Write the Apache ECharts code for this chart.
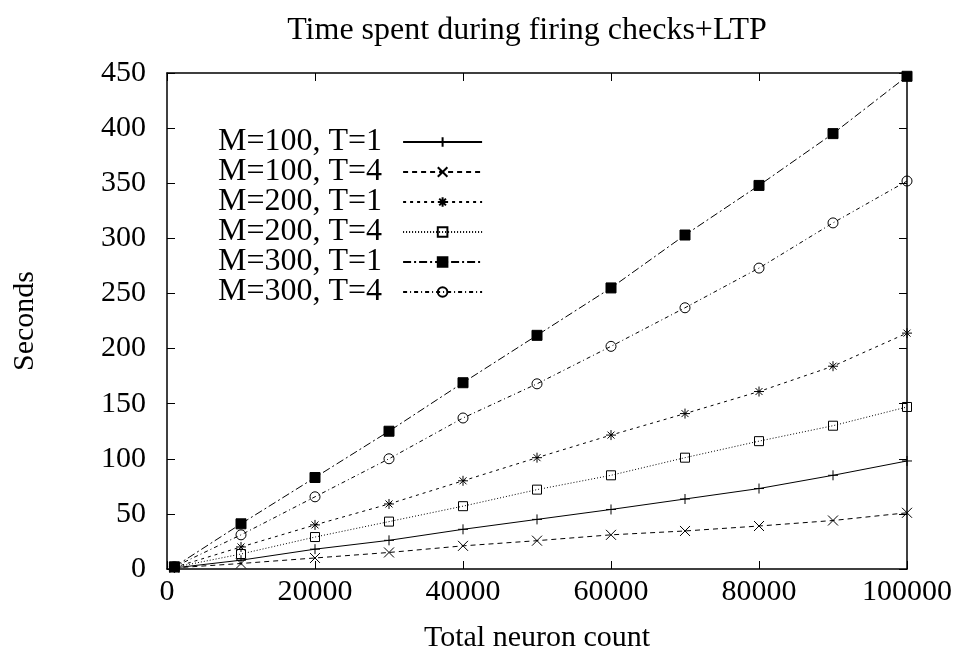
<!DOCTYPE html>
<html>
<head>
<meta charset="utf-8">
<script src="https://cdn.jsdelivr.net/npm/echarts@6/dist/echarts.min.js"></script>
<style>
html,body{margin:0;padding:0;background:#fff;}
#chart{width:961px;height:658px;}
</style>
</head>
<body>
<div id="chart"></div>
<script>
var neuronCounts = [1000, 10000, 20000, 30000, 40000, 50000, 60000, 70000, 80000, 90000, 100000];
var m100t1 = [1, 8, 18, 26, 36, 45, 54, 63.5, 73, 85, 98];
var m100t4 = [1, 5, 10, 15, 21, 25.7, 31, 34.5, 39, 44, 51];
var m200t1 = [1.5, 20, 40, 59, 80, 101, 121.5, 141, 161, 184, 214];
var m200t4 = [1.5, 13.6, 29, 43, 57, 72, 85, 101, 116, 130, 147];
var m300t1 = [2, 41, 83, 125, 169, 212, 255, 303, 348, 395, 447];
var m300t4 = [2, 31, 65.5, 100, 137, 168, 202, 237, 273, 314, 352];
var seriesNames = ['M=100, T=1', 'M=100, T=4', 'M=200, T=1', 'M=200, T=4', 'M=300, T=1', 'M=300, T=4'];
var seriesValues = [m100t1, m100t4, m200t1, m200t4, m300t1, m300t4];
var titleText = 'Time spent during firing checks+LTP';
var xName = 'Total neuron count';
var yName = 'Seconds';

var FONT = '"Liberation Serif", serif';
var symbols = [
  'path://M0,5L10,5M5,0L5,10',
  'path://M0,0L10,10M10,0L0,10',
  'path://M0,5L10,5M5,0L5,10M1.5,1.5L8.5,8.5M8.5,1.5L1.5,8.5',
  'rect',
  'rect',
  'circle'
];
var dashes = ['solid', [5, 4], [3, 4], [1, 2], [8, 3, 2, 3], [4, 3, 1, 3]];
var fills = ['rgba(0,0,0,0)', 'rgba(0,0,0,0)', 'rgba(0,0,0,0)', 'rgba(0,0,0,0)', '#000', 'rgba(0,0,0,0)'];
var sizes = [10, 10, 10, 9, 10, 10];

function pairs(vals) {
  return neuronCounts.map(function (x, i) { return [x, vals[i]]; });
}

var series = seriesNames.map(function (name, i) {
  return {
    name: name,
    type: 'line',
    xAxisIndex: 0,
    yAxisIndex: 0,
    data: pairs(seriesValues[i]),
    symbol: symbols[i],
    symbolSize: sizes[i],
    showAllSymbol: true,
    animation: false,
    lineStyle: { color: '#000', width: 1, type: dashes[i] },
    itemStyle: { color: fills[i], borderColor: '#000', borderWidth: 1 },
    emphasis: { disabled: true }
  };
});

function axisBase() {
  return {
    type: 'value',
    axisLine: { show: true, onZero: false, lineStyle: { color: '#000', width: 1.5 } },
    axisTick: { show: true, inside: true, length: 8, lineStyle: { color: '#000', width: 1 } },
    splitLine: { show: false }
  };
}

var option = {
  backgroundColor: '#fff',
  animation: false,
  title: {
    text: titleText,
    left: 522,
    textAlign: 'center',
    top: 10,
    textStyle: { fontFamily: FONT, fontSize: 32, fontWeight: 'normal', color: '#000' }
  },
  legend: {
    orient: 'vertical',
    left: 218,
    top: 126,
    align: 'right',
    itemWidth: 79,
    itemHeight: 12,
    itemGap: -2,
    padding: 0,
    data: seriesNames,
    textStyle: { fontFamily: FONT, fontSize: 32, lineHeight: 27, color: '#000', padding: [0, 16, 0, 0] }
  },
  grid: { left: 167, right: 54, top: 73, bottom: 89, containLabel: false },
  xAxis: [
    Object.assign(axisBase(), {
      position: 'bottom',
      min: 0, max: 100000, interval: 20000,
      name: xName,
      nameLocation: 'middle',
      nameGap: 54,
      nameTextStyle: { fontFamily: FONT, fontSize: 30, color: '#000' },
      axisLabel: { fontFamily: FONT, fontSize: 30, color: '#000', margin: 8, formatter: function (v) { return String(v); } }
    }),
    Object.assign(axisBase(), {
      position: 'top',
      min: 0, max: 100000, interval: 20000,
      axisLabel: { show: false }
    })
  ],
  yAxis: [
    Object.assign(axisBase(), {
      position: 'left',
      min: 0, max: 450, interval: 50,
      name: yName,
      nameLocation: 'middle',
      nameRotate: 90,
      nameGap: 127,
      nameTextStyle: { fontFamily: FONT, fontSize: 30, color: '#000' },
      axisLabel: { fontFamily: FONT, fontSize: 30, color: '#000', margin: 21 }
    }),
    Object.assign(axisBase(), {
      position: 'right',
      min: 0, max: 450, interval: 50,
      axisLabel: { show: false }
    })
  ],
  series: series
};

var chart = echarts.init(document.getElementById('chart'), null, { renderer: 'canvas' });
chart.setOption(option);
</script>
</body>
</html>
